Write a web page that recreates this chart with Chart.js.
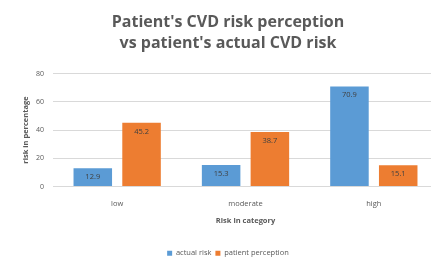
<!DOCTYPE html>
<html><head><meta charset="utf-8">
<script src="https://cdn.jsdelivr.net/npm/chart.js@4/dist/chart.umd.min.js"></script>
<style>html,body{margin:0;padding:0;overflow:hidden;background:#fff}#wrap{width:450px;height:267px}</style>
</head><body><div id="wrap"><canvas id="c" width="450" height="267"></canvas></div>
<script>
const categories = ["low", "moderate", "high"];
const actualRisk = [12.9, 15.3, 70.9];
const patientPerception = [45.2, 38.7, 15.1];
const yTicks = [0, 20, 40, 60, 80];

const labelPlugin = {
  id: 'barLabels',
  afterDatasetsDraw(chart) {
    const ctx = chart.ctx;
    ctx.save();
    ctx.font = '7.5px "Open Sans", sans-serif';
    ctx.fillStyle = '#404040';
    ctx.textAlign = 'center';
    ctx.textBaseline = 'top';
    chart.data.datasets.forEach((ds, i) => {
      chart.getDatasetMeta(i).data.forEach((bar, j) => {
        ctx.fillText(ds.data[j].toFixed(1), bar.x, bar.y + 5);
      });
    });
    ctx.restore();
  }
};

new Chart(document.getElementById('c'), {
  type: 'bar',
  data: {
    labels: categories,
    datasets: [
      {label: 'actual risk', data: actualRisk, backgroundColor: '#5B9BD5'},
      {label: 'patient perception', data: patientPerception, backgroundColor: '#ED7D31'}
    ]
  },
  options: {
    responsive: false,
    animation: false,
    categoryPercentage: 0.76,
    barPercentage: 0.79,
    layout: {padding: {left: 18, right: 12, top: 0, bottom: 0}},
    plugins: {
      title: {display: true, text: ["Patient's CVD risk perception", "vs patient's actual CVD risk"],
        color: '#595959', font: {size: 16, weight: 'bold', family: '"Open Sans", sans-serif', lineHeight: 1.3},
        padding: {top: 12, bottom: 20}},
      legend: {position: 'bottom', labels: {boxWidth: 5, boxHeight: 5, color: '#595959',
        font: {size: 7.5, family: '"Open Sans", sans-serif'}, padding: 4}},
      tooltip: {enabled: false}
    },
    scales: {
      x: {
        grid: {display: false},
        border: {display: false},
        ticks: {color: '#595959', font: {size: 7.5, family: '"Open Sans", sans-serif'}, padding: 5},
        title: {display: true, text: 'Risk in category', color: '#595959',
          font: {size: 7.5, weight: 'bold', family: '"Open Sans", sans-serif'}, padding: {top: 3, bottom: 20}}
      },
      y: {
        min: 0, max: 80,
        afterBuildTicks(axis) { axis.ticks = yTicks.map(v => ({value: v})); },
        grid: {color: '#d9d9d9', drawTicks: false},
        border: {display: false},
        ticks: {color: '#595959', font: {size: 7, family: '"Open Sans", sans-serif'}, padding: 9},
        title: {display: true, text: 'risk in percentage', color: '#595959',
          font: {size: 7.5, weight: 'bold', family: '"Open Sans", sans-serif'}, padding: {top: 3, bottom: -3}}
      }
    }
  },
  plugins: [labelPlugin]
});
</script>
</body></html>
